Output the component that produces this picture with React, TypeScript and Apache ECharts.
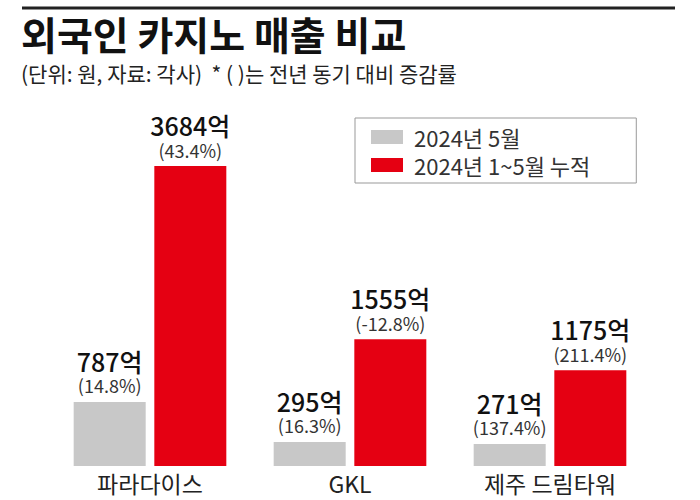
import React, { useEffect, useRef } from "react";
import * as echarts from "echarts";

const categories = ["파라다이스", "GKL", "제주 드림타워"];
const seriesNames = ["2024년 5월", "2024년 1~5월 누적"];
const mayValues = [787, 295, 271];
const cumValues = [3684, 1555, 1175];
const mayChange = ["14.8%", "16.3%", "137.4%"];
const cumChange = ["43.4%", "-12.8%", "211.4%"];

const FONT = "'Noto Sans CJK KR', 'Noto Sans', sans-serif";

export default function App() {
  const ref = useRef<HTMLDivElement>(null);
  useEffect(() => {
    if (!ref.current) return;
    const chart = echarts.init(ref.current, undefined, { renderer: "svg" });
    const mkLabel = (pcts: string[]) => ({
      show: true,
      position: "top",
      distance: 6,
      formatter: (p: any) => `{v|${p.value}억}\n{p|(${pcts[p.dataIndex]})}`,
      rich: {
        v: { fontFamily: FONT, fontSize: 25, fontWeight: 500, color: "#111", lineHeight: 28 },
        p: { fontFamily: FONT, fontSize: 18, color: "#333", lineHeight: 21 },
      },
    });
    chart.setOption({
      animation: false,
      backgroundColor: "#fff",
      textStyle: { fontFamily: FONT },
      title: {
        text: "외국인 카지노 매출 비교",
        subtext: "(단위: 원, 자료: 각사)  * ( )는 전년 동기 대비 증감률",
        left: 16,
        top: 8,
        itemGap: 11,
        textStyle: { fontFamily: FONT, fontSize: 39, fontWeight: "bold", color: "#111" },
        subtextStyle: { fontFamily: FONT, fontSize: 21, color: "#222" },
      },
      graphic: [
        {
          type: "line",
          shape: { x1: 22, y1: 8, x2: 675, y2: 8 },
          style: { stroke: "#222", lineWidth: 3 },
        },
      ],
      legend: {
        orient: "vertical",
        left: 355,
        top: 118,
        itemWidth: 32,
        itemHeight: 14,
        itemGap: 6,
        padding: [8, 46, 7, 16],
        borderColor: "#999",
        borderWidth: 1,
        icon: "rect",
        textStyle: { fontFamily: FONT, fontSize: 22, color: "#333", padding: [0, 0, 0, 6] },
        data: seriesNames,
      },
      grid: { left: 50, right: 50, top: 166, bottom: 34 },
      xAxis: {
        type: "category",
        data: categories,
        axisLine: { show: false },
        axisTick: { show: false },
        axisLabel: { fontFamily: FONT, fontSize: 23, color: "#222", margin: 5 },
      },
      yAxis: {
        type: "value",
        min: 0,
        max: 3684,
        show: false,
        splitLine: { show: false },
      },
      series: [
        {
          name: seriesNames[0],
          type: "bar",
          data: mayValues,
          barWidth: 72,
          barGap: "12%",
          itemStyle: { color: "#c8c8c8" },
          label: mkLabel(mayChange),
        },
        {
          name: seriesNames[1],
          type: "bar",
          data: cumValues,
          barWidth: 72,
          itemStyle: { color: "#e50012" },
          label: mkLabel(cumChange),
        },
      ],
    });
    return () => chart.dispose();
  }, []);
  return <div ref={ref} style={{ width: 700, height: 500, position: "fixed", left: 0, top: 0 }} />;
}
